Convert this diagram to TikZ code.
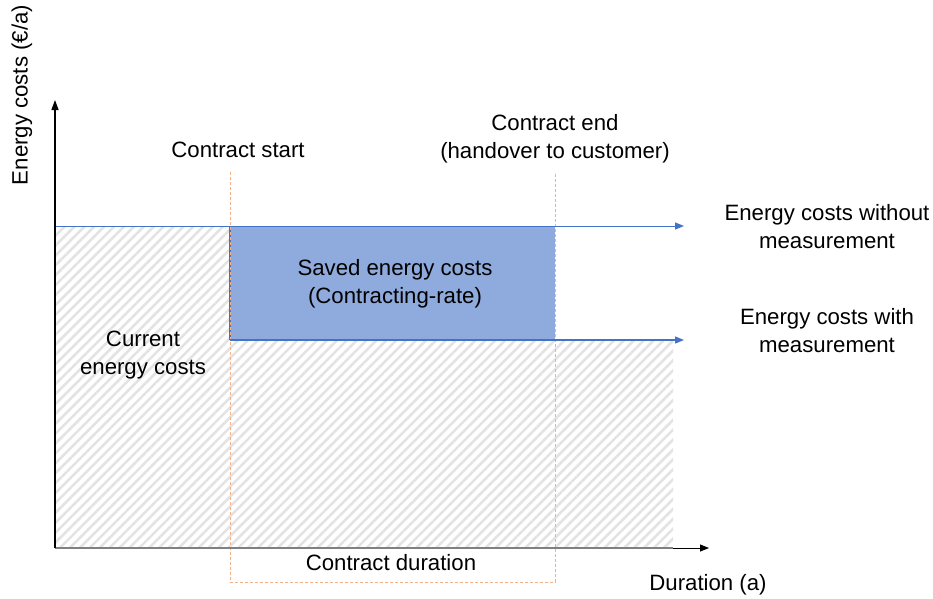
\documentclass[tikz,border=0pt]{standalone}
\usepackage{fontspec}
\setmainfont{Liberation Sans}
\usetikzlibrary{patterns.meta,arrows.meta}
\definecolor{bluefill}{HTML}{8FAADC}
\definecolor{blueline}{HTML}{4472C4}
\definecolor{orangedash}{HTML}{F4B183}
\begin{document}
\begin{tikzpicture}[x=1pt,y=-1pt,
  lbl/.style={font=\fontsize{22.2}{27}\selectfont, align=center, inner sep=0pt, text=black},
  hatch/.style={pattern={Lines[angle=45,distance=7pt,line width=2.6pt]}, pattern color=gray!22},
  guide/.style={draw=orangedash, dashed, line width=0.8pt, dash pattern=on 3pt off 2pt},
  costline/.style={draw=blueline, line width=1pt, -{Triangle[length=9pt,width=7pt]}}]
\useasboundingbox (0,0) rectangle (933,598);
% coordinates
\coordinate (O) at (55,548);
\coordinate (ytop) at (55,100);
\coordinate (xend) at (709,548);
\coordinate (s1) at (230,172);
\coordinate (s2) at (230,582);
\coordinate (e1) at (555,172);
\coordinate (e2) at (555,582);
\coordinate (t0) at (55,226);
\coordinate (t1) at (684,226);
\coordinate (b0) at (230,340);
\coordinate (b1) at (684,340);
% hatched areas
\fill[hatch] (55,226) -- (230,226) -- (230,340) -- (673,340) -- (673,548) -- (55,548) -- cycle;
% saved rectangle
\fill[bluefill] (230,226) rectangle (555,340);
\draw[blueline, line width=1.5pt] (230,226) -- (230,340);
% guides
\draw[guide] (s1) -- (s2) -- (e2) -- (e1);
% cost lines
\draw[costline] (t0) -- (t1);
\draw[costline, line width=1.3pt] (b0) -- (b1);
% axes
\draw[gray, line width=1.8pt] (O) -- (673,548);
\draw[black, line width=1pt, -{Triangle[length=9pt,width=7pt]}] (673,548) -- (xend);
\draw[black, line width=1.3pt, -{Triangle[length=10pt,width=7pt]}] (O) -- (ytop);
% labels
\node[lbl] (cs) at (238,150) {Contract start};
\node[lbl] (ce) at (555,139) {Contract end\\[1pt](handover to customer)};
\node[lbl] (sv) at (395,284) {Saved energy costs\\[1pt](Contracting-rate)};
\node[lbl] (cur) at (143,355) {Current\\[1pt]energy costs};
\node[lbl] (wo) at (827,227) {Energy costs without\\[1pt]measurement};
\node[lbl] (wi) at (827,331) {Energy costs with\\[1pt]measurement};
\node[lbl] (cd) at (391,563) {Contract duration};
\node[lbl] (du) at (708,585) {Duration (a)};
\node[lbl, rotate=90] (yl) at (22,95) {Energy costs (€/a)};
\end{tikzpicture}
\end{document}
